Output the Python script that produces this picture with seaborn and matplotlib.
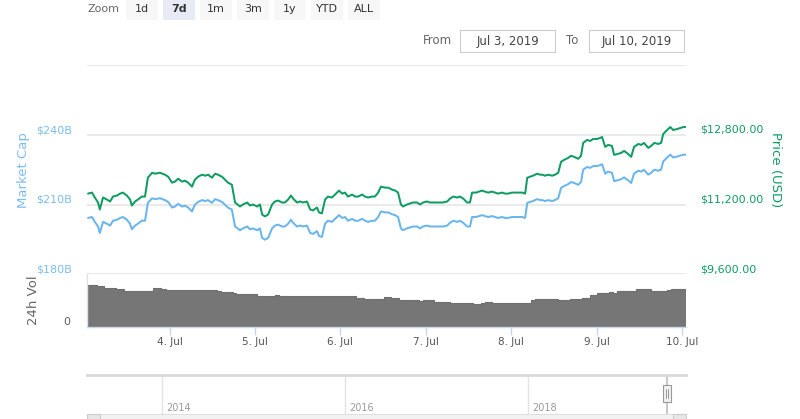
import matplotlib
matplotlib.use("Agg")
import matplotlib.pyplot as plt
import seaborn as sns
import pandas as pd
from matplotlib.patches import Rectangle

# ---------------- data ----------------
# hours since 3 Jul 2019 00:00
hours = [1.1, 2.2, 3.0, 3.9, 4.4, 5.3, 6.4, 7.3, 8.1, 9.2,
         10.1, 10.9, 12.0, 12.9, 13.4, 14.3, 15.1, 16.2, 17.1, 17.9,
         19.1, 19.9, 21.3, 22.7, 23.6, 24.7, 25.5, 26.4, 27.5, 28.3,
         29.2, 30.3, 31.1, 32.0, 33.1, 34.0, 34.8, 35.9, 36.8, 37.6,
         38.7, 39.6, 40.4, 41.5, 42.4, 43.8, 44.6, 45.8, 46.6, 47.4,
         48.6, 49.4, 50.0, 50.8, 51.7, 52.8, 53.6, 54.5, 55.6, 56.4,
         57.3, 58.1, 58.7, 59.8, 60.7, 61.5, 62.6, 63.5, 64.3, 65.4,
         66.0, 66.8, 67.7, 68.5, 69.6, 70.5, 71.6, 72.5, 73.3, 74.1,
         75.3, 76.1, 77.0, 78.1, 78.9, 79.8, 80.9, 81.7, 82.6, 83.4,
         84.5, 85.4, 86.5, 87.4, 88.2, 89.0, 89.6, 90.7, 91.6, 92.4,
         93.5, 94.4, 95.2, 96.3, 97.2, 98.6, 100.0, 100.8, 102.0, 102.8,
         103.7, 104.8, 105.6, 106.5, 107.6, 108.4, 109.0, 110.1, 111.0, 111.8,
         112.6, 113.5, 114.6, 115.5, 116.3, 117.4, 118.3, 119.1, 120.2, 121.1,
         121.9, 123.1, 123.9, 124.5, 125.3, 126.1, 127.3, 128.1, 128.7, 129.5,
         130.4, 131.5, 132.3, 133.2, 134.0, 134.9, 136.0, 136.8, 137.7, 138.8,
         139.6, 140.2, 141.3, 142.2, 143.0, 144.1, 145.0, 145.5, 146.4, 147.2,
         148.3, 148.9, 150.0, 150.9, 151.7, 152.8, 153.7, 154.5, 155.7, 156.5,
         157.3, 158.5, 159.3, 160.2, 161.3, 162.1, 162.7, 163.8, 164.7, 165.5,
         166.6, 167.5, 168.3, 169.1]

price_usd = [11451, 11474, 11360, 11246, 11086, 11360, 11314, 11269, 11383, 11406,
             11451, 11474, 11406, 11314, 11177, 11269, 11314, 11383, 11383, 11817,
             11931, 11909, 11931, 11886, 11840, 11703, 11726, 11794, 11726, 11749,
             11703, 11611, 11771, 11840, 11886, 11863, 11886, 11817, 11909, 11886,
             11840, 11771, 11703, 11657, 11246, 11154, 11200, 11246, 11177, 11200,
             11154, 11200, 10971, 10926, 10971, 11200, 11269, 11291, 11246, 11246,
             11314, 11406, 11337, 11246, 11269, 11246, 11269, 11086, 11063, 11131,
             11017, 10994, 11314, 11383, 11360, 11429, 11520, 11451, 11474, 11383,
             11429, 11383, 11383, 11429, 11383, 11360, 11383, 11383, 11474, 11611,
             11589, 11589, 11543, 11520, 11474, 11200, 11154, 11200, 11223, 11246,
             11246, 11200, 11246, 11269, 11246, 11246, 11246, 11246, 11269, 11337,
             11383, 11360, 11383, 11337, 11246, 11246, 11474, 11474, 11497, 11520,
             11497, 11474, 11497, 11474, 11451, 11474, 11451, 11451, 11474, 11474,
             11474, 11474, 11451, 11817, 11840, 11863, 11909, 11886, 11886, 11863,
             11886, 11863, 11886, 11931, 12183, 12229, 12274, 12320, 12297, 12252,
             12320, 12617, 12686, 12663, 12709, 12709, 12732, 12754, 12526, 12572,
             12549, 12343, 12366, 12389, 12434, 12366, 12297, 12526, 12594, 12572,
             12617, 12503, 12549, 12617, 12594, 12617, 12823, 12915, 12983, 12915,
             12937, 12960, 12983, 12983]

market_cap_b = [204.2, 204.6, 202.5, 200.5, 197.7, 202.5, 201.7, 200.9, 203.0, 203.4,
                204.2, 204.6, 203.4, 201.7, 199.3, 200.9, 201.7, 203.0, 203.0, 210.7,
                212.7, 212.3, 212.7, 211.9, 211.1, 208.7, 209.1, 210.3, 209.1, 209.5,
                208.7, 207.0, 209.9, 211.1, 211.9, 211.5, 211.9, 210.7, 212.3, 211.9,
                211.1, 209.9, 208.7, 207.8, 200.5, 198.9, 199.7, 200.5, 199.3, 199.7,
                198.9, 199.7, 195.6, 194.8, 195.6, 199.7, 200.9, 201.3, 200.5, 200.5,
                201.7, 203.4, 202.1, 200.5, 200.9, 200.5, 200.9, 197.7, 197.3, 198.5,
                196.4, 196.0, 201.7, 203.0, 202.5, 203.8, 205.4, 204.2, 204.6, 203.0,
                203.8, 203.0, 203.0, 203.8, 203.0, 202.5, 203.0, 203.0, 204.6, 207.0,
                206.6, 206.6, 205.8, 205.4, 204.6, 199.7, 198.9, 199.7, 200.1, 200.5,
                200.5, 199.7, 200.5, 200.9, 200.5, 200.5, 200.5, 200.5, 200.9, 202.1,
                203.0, 202.5, 203.0, 202.1, 200.5, 200.5, 204.6, 204.6, 205.0, 205.4,
                205.0, 204.6, 205.0, 204.6, 204.2, 204.6, 204.2, 204.2, 204.6, 204.6,
                204.6, 204.6, 204.2, 210.7, 211.1, 211.5, 212.3, 211.9, 211.9, 211.5,
                211.9, 211.5, 211.9, 212.7, 217.2, 218.0, 218.8, 219.7, 219.3, 218.5,
                219.7, 225.0, 226.2, 225.8, 226.6, 226.6, 227.0, 227.4, 223.3, 224.2,
                223.7, 220.1, 220.5, 220.9, 221.7, 220.5, 219.3, 223.3, 224.6, 224.2,
                225.0, 222.9, 223.7, 225.0, 224.6, 225.0, 228.6, 230.3, 231.5, 230.3,
                230.7, 231.1, 231.5, 231.5]

vol_hours = [0.8, 3.5, 5.7, 8.9, 11.1, 17.7, 19.3, 21.5, 23.1, 28.6,
             37.3, 38.4, 41.7, 42.7, 46.0, 48.7, 53.7, 54.7, 66.7, 67.8,
             68.9, 71.1, 74.4, 76.5, 78.7, 84.2, 86.3, 88.5, 90.7, 94.0,
             95.1, 98.3, 102.7, 103.8, 107.1, 109.2, 111.4, 112.5, 114.7, 124.5,
             125.6, 126.7, 133.2, 136.5, 139.8, 142.0, 144.1, 147.4, 148.5, 149.6,
             155.0, 159.4, 162.7, 163.8, 164.8, 169.1]
volume_b = [31.5, 31.0, 29.7, 28.5, 27.1, 27.1, 29.7, 28.9, 27.7, 27.7,
            27.1, 26.3, 25.5, 24.6, 24.6, 23.5, 24.2, 23.5, 23.5, 23.1,
            23.5, 23.1, 23.5, 21.9, 21.2, 22.5, 21.5, 20.4, 20.0, 19.2,
            20.0, 18.5, 17.7, 18.2, 17.8, 17.0, 18.1, 18.5, 17.8, 17.8,
            20.0, 20.8, 20.0, 20.9, 21.9, 24.2, 25.5, 26.6, 25.8, 26.9,
            28.2, 27.1, 27.1, 27.7, 28.5, 28.2]

day_ticks = [24, 48, 72, 96, 120, 144, 168]
day_labels = ["4. Jul", "5. Jul", "6. Jul", "7. Jul", "8. Jul", "9. Jul", "10. Jul"]
mcap_ticks = [180, 210, 240, 270]
mcap_labels = ["$180B", "$210B", "$240B", ""]
price_ticks = [9600, 11200, 12800, 14400]
price_labels = ["$9,600.00", "$11,200.00", "$12,800.00", ""]
nav_years = [2014, 2016, 2018]
zoom_buttons = ["1d", "7d", "1m", "3m", "1y", "YTD", "ALL"]

df = pd.DataFrame({"hour": hours, "price": price_usd, "mcap": market_cap_b})

# ---------------- styling ----------------
sns.set_theme(style="white")
plt.rcParams["font.family"] = ["DejaVu Sans"]

BLUE = "#6ab6ec"
BLUE_TXT = "#7cbcef"
GREEN = "#109c63"
GRID = "#e6e6e6"
W, H = 800, 419

fig = plt.figure(figsize=(8, 4.19), dpi=100)
fig.patch.set_facecolor("white")


def box(x0, y0, x1, y1):
    return [x0 / W, 1 - y1 / H, (x1 - x0) / W, (y1 - y0) / H]


XMIN, XMAX = 0.8, 169.1

# main price / market-cap panel
ax = fig.add_axes(box(87, 65.5, 686, 274))
ax.patch.set_visible(False)
ax2 = ax.twinx()

sns.lineplot(data=df, x="hour", y="mcap", ax=ax, color=BLUE, lw=1.45,
             estimator=None, sort=False)
sns.lineplot(data=df, x="hour", y="price", ax=ax2, color=GREEN, lw=1.45,
             estimator=None, sort=False)

ax.set_xlim(XMIN, XMAX)
ax.set_ylim(180, 270)
ax.set_yticks(mcap_ticks, mcap_labels)
ax.grid(axis="y", color=GRID, lw=1.2)
ax.grid(axis="x", visible=False)
ax.tick_params(axis="y", length=0, pad=11, labelsize=8, labelcolor=BLUE_TXT)
ax.tick_params(axis="x", bottom=False, labelbottom=False)
ax.set_xlabel("")
ax.set_ylabel("Market Cap", color=BLUE_TXT, fontsize=9.5)
ax.yaxis.set_label_coords(-0.095, 0.5)
for t in ax.get_yticklabels():
    t.set_verticalalignment("bottom")

ax2.set_ylim(9600, 14400)
ax2.set_yticks(price_ticks, price_labels)
ax2.grid(False)
ax2.tick_params(axis="y", length=0, pad=10, labelsize=8, labelcolor=GREEN)
ax2.set_ylabel("Price (USD)", color=GREEN, fontsize=9.5, rotation=270,
               va="bottom")
ax2.yaxis.set_label_coords(1.138, 0.5)
for t in ax2.get_yticklabels():
    t.set_verticalalignment("bottom")

for a in (ax, ax2):
    for s in a.spines.values():
        s.set_visible(False)

# volume panel
axv = fig.add_axes(box(87, 274, 686, 326.5))
axv.patch.set_visible(False)
axv.fill_between(vol_hours, volume_b, step="post", color="#767676", lw=0)
sns.lineplot(x=vol_hours, y=volume_b, ax=axv, color="#6f6f6f", lw=0.8,
             drawstyle="steps-post", estimator=None, sort=False)
axv.set_xlim(XMIN, XMAX)
axv.set_ylim(0, 40)
axv.set_yticks([0], ["0"])
axv.tick_params(axis="y", length=0, pad=12, labelsize=8, labelcolor="#606060")
for t in axv.get_yticklabels():
    t.set_verticalalignment("bottom")
axv.set_xticks(day_ticks, day_labels)
axv.tick_params(axis="x", length=6, width=1, color="#ccd6eb", pad=1.5,
                labelsize=7.5, labelcolor="#555555", bottom=True)
axv.set_ylabel("24h Vol", color="#666666", fontsize=9.5)
axv.yaxis.set_label_coords(-0.078, 0.5)
axv.grid(False)
for k in ("top", "right"):
    axv.spines[k].set_visible(False)
axv.spines["bottom"].set_color("#ccd6eb")
axv.spines["bottom"].set_linewidth(1)
axv.spines["left"].set_color("#dde3ee")
axv.spines["left"].set_linewidth(1)

# navigator
nav = fig.add_axes(box(87, 375, 686, 414))
nav.patch.set_visible(False)
nav.set_xlim(2013.18, 2019.73)
nav.set_ylim(0, 1)
for yr in nav_years:
    nav.axvline(yr, color="#e4e4e4", lw=1)
    nav.text(yr + 0.05, 0.16, str(yr), fontsize=7, color="#9a9a9a",
             ha="left", va="center")
nav.axvline(2019.52, color="#bdbdbd", lw=1.2)
nav.set_xticks([])
nav.set_yticks([])
for k, s in nav.spines.items():
    s.set_visible(k == "top")
nav.spines["top"].set_color("#d9d9d9")
nav.spines["top"].set_linewidth(2)

# overlay for range-selector UI (pixel coordinates)
ov = fig.add_axes([0, 0, 1, 1])
ov.set_xlim(0, W)
ov.set_ylim(H, 0)
ov.axis("off")
ov.patch.set_visible(False)

ov.text(88, 9, "Zoom", fontsize=8, color="#666666", ha="left", va="center")
btn_x = [126, 163, 200, 237, 274, 311, 348]
for lab, bx in zip(zoom_buttons, btn_x):
    sel = lab == "7d"
    ov.add_patch(Rectangle((bx, 0), 32, 20,
                           facecolor="#e6ebf5" if sel else "#f7f7f7",
                           edgecolor="none"))
    ov.text(bx + 16, 9, lab, fontsize=8, color="#333333", ha="center",
            va="center", fontweight="bold" if sel else "normal")

ov.text(423, 41, "From", fontsize=8.5, color="#666666", ha="left", va="center")
ov.add_patch(Rectangle((460, 30), 95, 22, facecolor="white",
                       edgecolor="#cccccc", lw=0.8))
ov.text(507.5, 41, "Jul 3, 2019", fontsize=8.5, color="#444444",
        ha="center", va="center")
ov.text(566, 41, "To", fontsize=8.5, color="#666666", ha="left", va="center")
ov.add_patch(Rectangle((589, 30), 95, 22, facecolor="white",
                       edgecolor="#cccccc", lw=0.8))
ov.text(636.5, 41, "Jul 10, 2019", fontsize=8.5, color="#444444",
        ha="center", va="center")

# navigator handle and scrollbar
ov.add_patch(Rectangle((663, 385), 8, 17, facecolor="#f2f2f2",
                       edgecolor="#999999", lw=0.8))
ov.plot([666, 666], [389, 398], color="#999999", lw=0.7)
ov.plot([668, 668], [389, 398], color="#999999", lw=0.7)
ov.add_patch(Rectangle((87, 414), 599, 6, facecolor="#f2f2f2",
                       edgecolor="#e0e0e0", lw=0.8))
ov.add_patch(Rectangle((87, 414), 13, 6, facecolor="#e6e6e6",
                       edgecolor="#cccccc", lw=0.8))
ov.add_patch(Rectangle((673, 414), 13, 6, facecolor="#e6e6e6",
                       edgecolor="#cccccc", lw=0.8))

fig.savefig("out.png", dpi=100, facecolor="white")
